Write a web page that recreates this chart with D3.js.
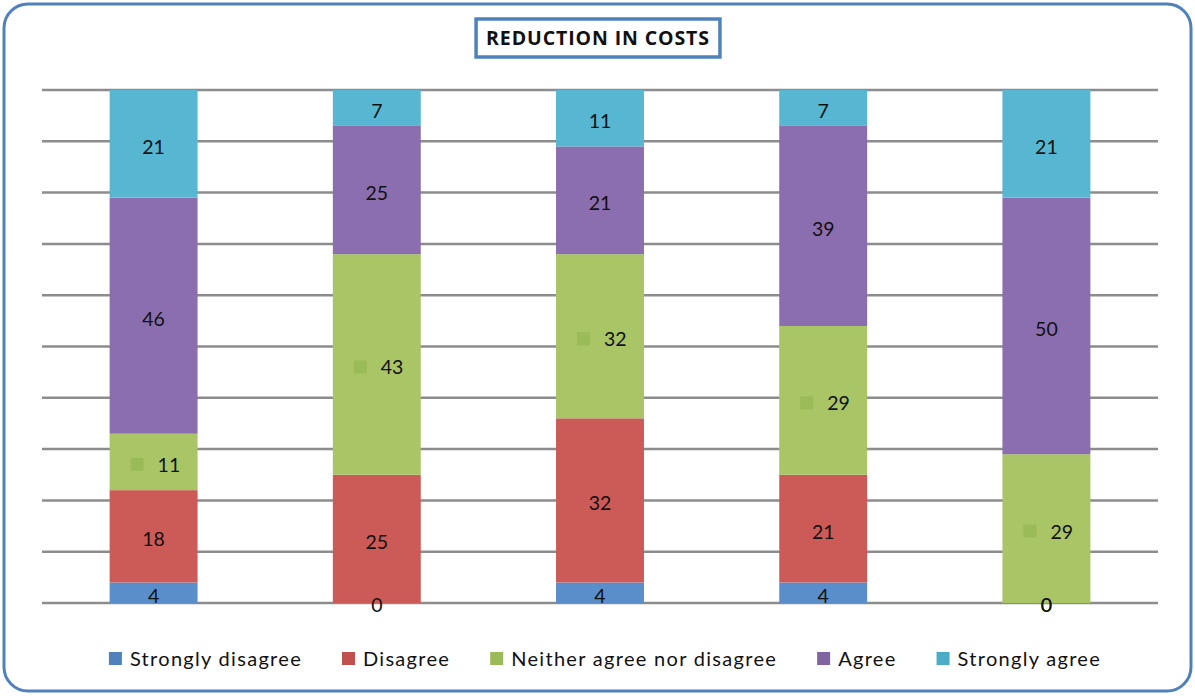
<!DOCTYPE html>
<html>
<head>
<meta charset="utf-8">
<script src="https://cdn.jsdelivr.net/npm/d3@7/dist/d3.min.js"></script>
<style>
  html, body { margin: 0; padding: 0; background: #fff; }
  svg { display: block; font-family: Lato, "Open Sans", sans-serif; }
</style>
</head>
<body>
<svg id="chart" width="1195" height="696"></svg>
<script>
// Survey groups (one stacked column each) and response categories
const groups = ["G1", "G2", "G3", "G4", "G5"];
const seriesNames = ["Strongly disagree", "Disagree", "Neither agree nor disagree", "Agree", "Strongly agree"];
const stronglyDisagree = [4, 0, 4, 4, 0];
const disagree = [18, 25, 32, 21, 0];
const neither = [11, 43, 32, 29, 29];
const agree = [46, 25, 21, 39, 50];
const stronglyAgree = [21, 7, 11, 7, 21];
const gridTicks = [0, 10, 20, 30, 40, 50, 60, 70, 80, 90, 100];
const title = "REDUCTION IN COSTS";

const fills = ["#5A8ECB", "#CC5B58", "#A9C566", "#8B6EAF", "#57B6D2"];
const keyFills = ["#4F81BD", "#C0504D", "#9BBB59", "#8064A2", "#4BACC6"];

const seriesValues = [stronglyDisagree, disagree, neither, agree, stronglyAgree];
const rows = groups.map((g, i) => {
  const r = { group: g };
  seriesNames.forEach((s, k) => r[s] = seriesValues[k][i]);
  return r;
});
const stacked = d3.stack().keys(seriesNames).offset(d3.stackOffsetExpand)(rows);

const svg = d3.select("#chart");

// Outer frame
svg.append("rect")
  .attr("x", 4).attr("y", 4).attr("width", 1187).attr("height", 687)
  .attr("rx", 24).attr("ry", 24)
  .attr("fill", "#fff").attr("stroke", "#4F81BD").attr("stroke-width", 3);

// Title box
const titleG = svg.append("g");
const titleText = titleG.append("text")
  .attr("x", 598).attr("y", 45)
  .attr("text-anchor", "middle")
  .attr("font-size", 19.5).attr("font-weight", "bold").attr("fill", "#111")
  .attr("font-family", "'Open Sans', Lato, sans-serif")
  .attr("letter-spacing", 0.9)
  .text(title);
const tb = titleText.node().getBBox();
titleG.insert("rect", "text")
  .attr("x", tb.x - 10).attr("y", 19).attr("width", tb.width + 20).attr("height", 38)
  .attr("fill", "#fff").attr("stroke", "#4F81BD").attr("stroke-width", 3.5);

// Scales
const x = d3.scaleBand().domain(groups).range([42, 1158]).padding(0);
const y = d3.scaleLinear().domain([0, 1]).range([603, 90]);
const barW = x.bandwidth() * 0.394;

// Gridlines
svg.append("g").selectAll("line")
  .data(gridTicks)
  .join("line")
  .attr("x1", 42).attr("x2", 1158)
  .attr("y1", d => y(d / 100)).attr("y2", d => y(d / 100))
  .attr("stroke", "#8c8c8c").attr("stroke-width", 2.5);

// Stacked bars
const layers = svg.append("g").selectAll("g")
  .data(stacked)
  .join("g")
  .attr("fill", (d, i) => fills[i]);

layers.selectAll("rect")
  .data(d => d)
  .join("rect")
  .attr("x", d => x(d.data.group) + x.bandwidth() / 2 - barW / 2)
  .attr("width", barW)
  .attr("y", d => y(d[1]))
  .attr("height", d => y(d[0]) - y(d[1]));

// Value labels
const labelG = svg.append("g").attr("font-size", 19.5).attr("fill", "#111");
stacked.forEach((layer, k) => {
  layer.forEach((d, i) => {
    const v = seriesValues[k][i];
    const cx = x(d.data.group) + x.bandwidth() / 2;
    const cy = (y(d[0]) + y(d[1])) / 2 + 3;
    if (seriesNames[k] === seriesNames[2]) {
      // this series shows its legend key beside the value
      labelG.append("rect")
        .attr("x", cx - 23).attr("y", cy - 7).attr("width", 13).attr("height", 13)
        .attr("fill", keyFills[k]);
      labelG.append("text")
        .attr("x", cx + 4).attr("y", cy + 7)
        .attr("text-anchor", "start")
        .text(v);
    } else {
      labelG.append("text")
        .attr("x", cx).attr("y", v === 0 ? y(0) + 9 : cy + 7)
        .attr("text-anchor", "middle")
        .text(v);
    }
  });
});

// Legend
const legend = svg.append("g").attr("font-size", 20).attr("fill", "#111").attr("letter-spacing", 1.3);
const items = seriesNames.map((s, i) => {
  const g = legend.append("g");
  g.append("rect").attr("x", 0).attr("y", -14).attr("width", 13).attr("height", 13).attr("fill", keyFills[i]);
  const t = g.append("text").attr("x", 21).attr("y", 0).text(s);
  return { g, w: 21 + t.node().getComputedTextLength() };
});
const gap = 40;
const total = d3.sum(items, d => d.w) + gap * (items.length - 1);
let cursor = 605 - total / 2;
items.forEach(it => {
  it.g.attr("transform", `translate(${cursor},666)`);
  cursor += it.w + gap;
});
</script>
</body>
</html>
